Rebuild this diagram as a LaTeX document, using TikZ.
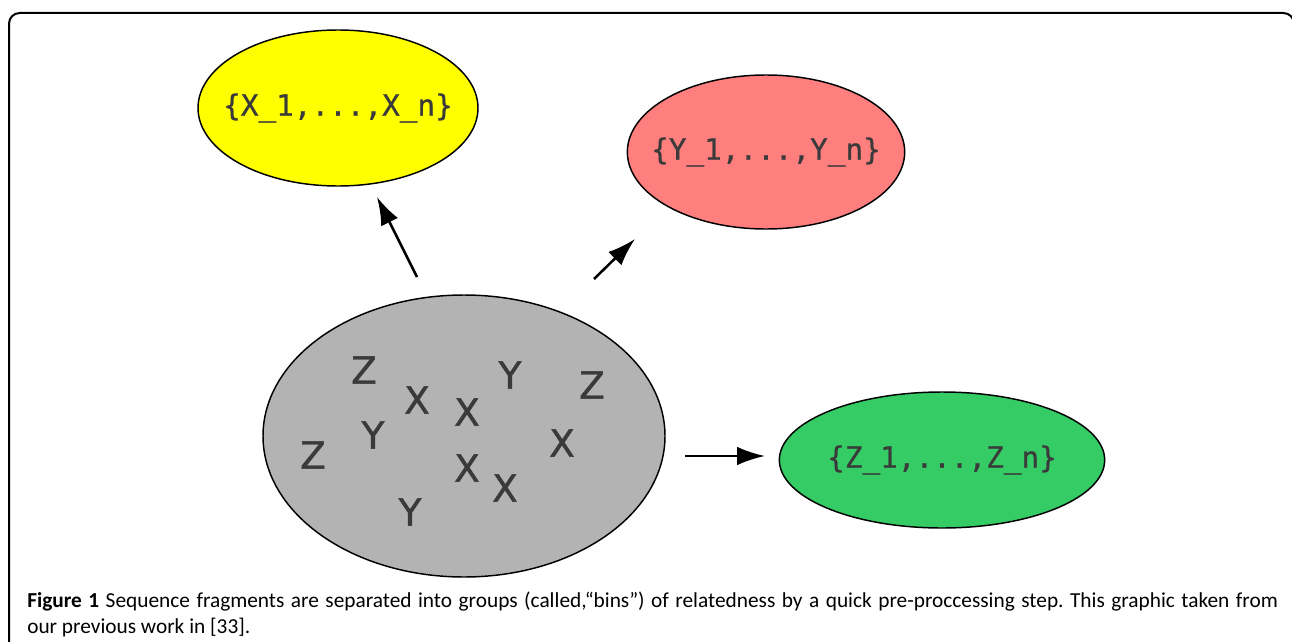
\documentclass[tikz,border=0pt]{standalone}
\usepackage{fontspec}
\setmainfont{Carlito}
\newfontfamily\monofont[FakeBold=0.8]{DejaVu Sans Mono}
\newfontfamily\letterfont[FakeBold=1.2]{DejaVu Sans}
\usetikzlibrary{shapes.geometric,arrows.meta}
\definecolor{txt}{HTML}{3A3A3A}
\definecolor{xyellow}{HTML}{FFFF00}
\definecolor{yred}{HTML}{FF7F7F}
\definecolor{zgreen}{HTML}{35CC66}
\definecolor{bingray}{HTML}{B3B3B3}
\begin{document}
\begin{tikzpicture}[x=0.75pt,y=-0.75pt,
  blob/.style={ellipse, draw=black, line width=1.1pt, inner sep=0pt},
  setlabel/.style={text=txt, inner sep=0pt, font=\monofont\fontsize{22}{24}\selectfont},
  lt/.style={text=txt, font=\letterfont\fontsize{28}{30}\selectfont, inner sep=0pt},
  arr/.style={-{Latex[length=21pt,width=14pt]}, line width=1.9pt}]
\useasboundingbox (0,0) rectangle (1292,642);
\clip (0,0) rectangle (1292,642);
\draw[line width=1.5pt, rounded corners=8pt] (9,670) -- (9,13) -- (1294,13) -- (1294,670);

\node[blob, fill=xyellow, minimum width=210pt, minimum height=117pt] (xs) at (338,108) {};
\node[setlabel] (xl) at (xs.center) {\{X\_1,...,X\_n\}};
\node[blob, fill=yred, minimum width=208pt, minimum height=115.5pt] (ys) at (766,152) {};
\node[setlabel] (yl) at (ys.center) {\{Y\_1,...,Y\_n\}};
\node[blob, fill=zgreen, minimum width=244pt, minimum height=102pt] (zs) at (942,460) {};
\node[setlabel] (zl) at (zs.center) {\{Z\_1,...,Z\_n\}};
\node[blob, fill=bingray, minimum width=301.5pt, minimum height=211.5pt] (bin) at (464,436) {};

\node[lt] (l1) at (364,370) {Z};
\node[lt] (l2) at (417,400) {X};
\node[lt] (l3) at (467,412) {X};
\node[lt] (l4) at (510,375) {Y};
\node[lt] (l5) at (592,385) {Z};
\node[lt] (l6) at (373,435) {Y};
\node[lt] (l7) at (313,455) {Z};
\node[lt] (l8) at (562,443) {X};
\node[lt] (l9) at (467,468) {X};
\node[lt] (l10) at (505,488) {X};
\node[lt] (l11) at (410,512) {Y};

\coordinate (t1) at (417,277);
\coordinate (h1) at (377,197);
\coordinate (t2) at (594,279);
\coordinate (h2) at (635,239);
\coordinate (t3) at (685,456);
\coordinate (h3) at (765,456);
\draw[arr] (t1) -- (h1);
\draw[arr] (t2) -- (h2);
\draw[arr] (t3) -- (h3);

\node[anchor=north west, align=left, inner sep=0pt,
  font=\fontsize{16}{19.5}\selectfont] (cap) at (27,592)
  {\frenchspacing\makebox[938pt][s]{\textbf{Figure 1} Sequence fragments are separated into groups (called,“bins”) of relatedness by a quick pre-proccessing step. This graphic taken from}\\our previous work in [33].};
\end{tikzpicture}
\end{document}
